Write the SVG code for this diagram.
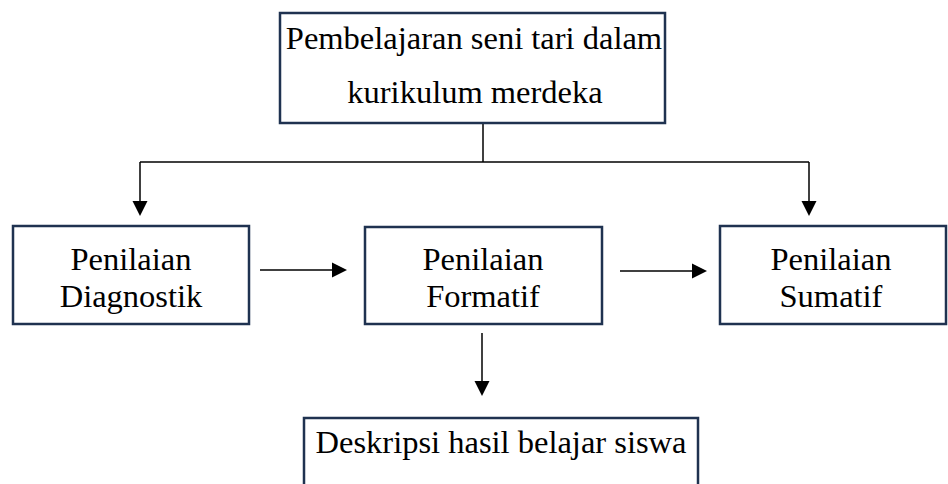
<svg xmlns="http://www.w3.org/2000/svg" width="948" height="484" viewBox="0 0 948 484">
<style>
.box{fill:#fff;stroke:#1f3250;stroke-width:2.5}
.t{font-family:'Liberation Serif','Times New Roman',serif;font-size:32.5px;fill:#000;text-anchor:middle}
.ln{fill:none;stroke:#000;stroke-width:1.5}
</style>
<g id="connectors">
<path class="ln" d="M483,123 V162"/>
<path class="ln" d="M140,162 H809"/>
<path class="ln" d="M140,162 V201"/>
<path d="M132.5,201 L147.5,201 L140,216 Z" fill="#000"/>
<path class="ln" d="M809,162 V201"/>
<path d="M801.5,201 L816.5,201 L809,216 Z" fill="#000"/>
<path class="ln" d="M260,270 H332"/>
<path d="M332,262.5 L347,270 L332,277.5 Z" fill="#000"/>
<path class="ln" d="M620,271 H692"/>
<path d="M692,263.5 L707,271 L692,278.5 Z" fill="#000"/>
<path class="ln" d="M482,333 V381"/>
<path d="M474.5,381 L489.5,381 L482,396 Z" fill="#000"/>
</g>
<g id="node-top">
<rect class="box" x="280" y="13" width="385" height="110"/>
<text class="t" x="474" y="49">Pembelajaran seni tari dalam</text>
<text class="t" x="475" y="103">kurikulum merdeka</text>
</g>
<g id="node-diagnostik">
<rect class="box" x="13" y="226" width="236" height="98"/>
<text class="t" x="131" y="270">Penilaian</text>
<text class="t" x="131" y="307">Diagnostik</text>
</g>
<g id="node-formatif">
<rect class="box" x="365" y="227" width="237" height="97"/>
<text class="t" x="483" y="270">Penilaian</text>
<text class="t" x="483" y="307">Formatif</text>
</g>
<g id="node-sumatif">
<rect class="box" x="720" y="226" width="226" height="98"/>
<text class="t" x="831" y="270">Penilaian</text>
<text class="t" x="831" y="307">Sumatif</text>
</g>
<g id="node-deskripsi">
<rect class="box" x="304" y="418" width="394" height="80"/>
<text class="t" x="501" y="453">Deskripsi hasil belajar siswa</text>
</g>
</svg>
